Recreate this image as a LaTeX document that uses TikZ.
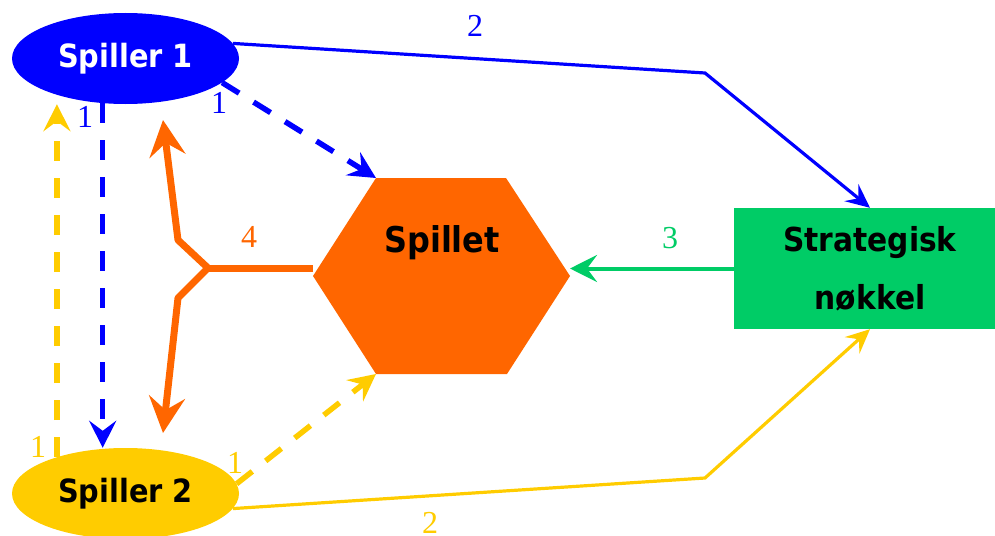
\documentclass[tikz,border=0pt]{standalone}
\usepackage{fontspec}
\setmainfont{Liberation Serif}
\newfontfamily\lbl{DejaVu Sans Bold}[FakeStretch=0.9]
\usetikzlibrary{arrows.meta,shapes.geometric,calc}
\definecolor{pblue}{HTML}{0000FF}
\definecolor{pyellow}{HTML}{FFCC00}
\definecolor{porange}{HTML}{FF6600}
\definecolor{pgreen}{HTML}{00CC66}

\begin{document}
\begin{tikzpicture}[x=1pt,y=-1pt,
  player/.style={ellipse, minimum width=227pt, minimum height=91pt, inner sep=0pt,
    font=\lbl\fontsize{32}{38}\selectfont},
  num/.style={font=\fontsize{32}{36}\selectfont, inner sep=0pt},
  solidlink/.style={line width=3.2pt, -{Stealth[length=24pt,width=22pt,inset=9pt]}},
  dashlink/.style={line width=5.5pt, dash pattern=on 20pt off 17pt,
    -{Stealth[length=27pt,width=27pt,inset=10pt]}},
  greenlink/.style={line width=4pt, pgreen, -{Stealth[length=27pt,width=27pt,inset=10pt]}},
  forklink/.style={line width=7pt, porange, line join=round,
    {Stealth[length=36pt,width=36pt,inset=13pt]}-{Stealth[length=36pt,width=36pt,inset=13pt]}}
]
\useasboundingbox (0,0) rectangle (995,535);

% players and the key box
\node[player, fill=pblue, text=white] (s1) at (125.5,58.5) {Spiller 1};
\node[player, fill=pyellow, text=black] (s2) at (125.5,493.5) {Spiller 2};
\node[rectangle, fill=pgreen, minimum width=272pt, minimum height=121pt, inner sep=0pt,
  align=center, font=\lbl\fontsize{33}{58}\selectfont] (key) at (870,268.5) {Strategisk\\nøkkel};

% the game hexagon
\coordinate (hexW)  at (313,276);
\coordinate (hexNW) at (376,178);
\coordinate (hexNE) at (506,178);
\coordinate (hexE)  at (570,276);
\coordinate (hexSE) at (507,374);
\coordinate (hexSW) at (376,374);
\fill[porange] (hexW) -- (hexNW) -- (hexNE) -- (hexE) -- (hexSE) -- (hexSW) -- cycle;
\node[font=\lbl\fontsize{35.5}{40}\selectfont, inner sep=0pt] (game) at (442,243) {Spillet};

% bend points and the fork
\coordinate (b1) at (705,73);
\coordinate (b2) at (705,478);
\coordinate (fork) at (208,268);
\coordinate (up1) at (178,240);
\coordinate (up2) at (163,120);
\coordinate (dn1) at (178,298);
\coordinate (dn2) at (163,433);

% connectors
\draw[solidlink, pblue] (s1.8) -- (b1) -- (key.north);
\draw[solidlink, pyellow] (s2.-8) -- (b2) -- (key.south);
\draw[dashlink, pblue] (s1.-14) -- (hexNW);
\draw[dashlink, pblue] (s1.-117) -- (s1.-117 |- s2.north);
\draw[dashlink, pyellow] (s2.152) -- (s2.152 |- s1.south);
\draw[dashlink, pyellow] (s2.5) -- (hexSW);
\draw[greenlink] (key.west) -- (hexE |- key.west);
\draw[line width=7pt, porange] (hexW |- fork) -- (fork);
\draw[forklink] (up2) -- (up1) -- (fork) -- (dn1) -- (dn2);

% labels
\node[num, text=pblue] at (475,26) {2};
\node[num, text=pblue] at (85,117) {1};
\node[num, text=pblue] at (219,103) {1};
\node[num, text=pyellow] at (38,447) {1};
\node[num, text=pyellow] at (235,463) {1};
\node[num, text=pyellow] at (430,523) {2};
\node[num, text=pgreen] at (670,238) {3};
\node[num, text=porange] at (249,237) {4};
\end{tikzpicture}
\end{document}
